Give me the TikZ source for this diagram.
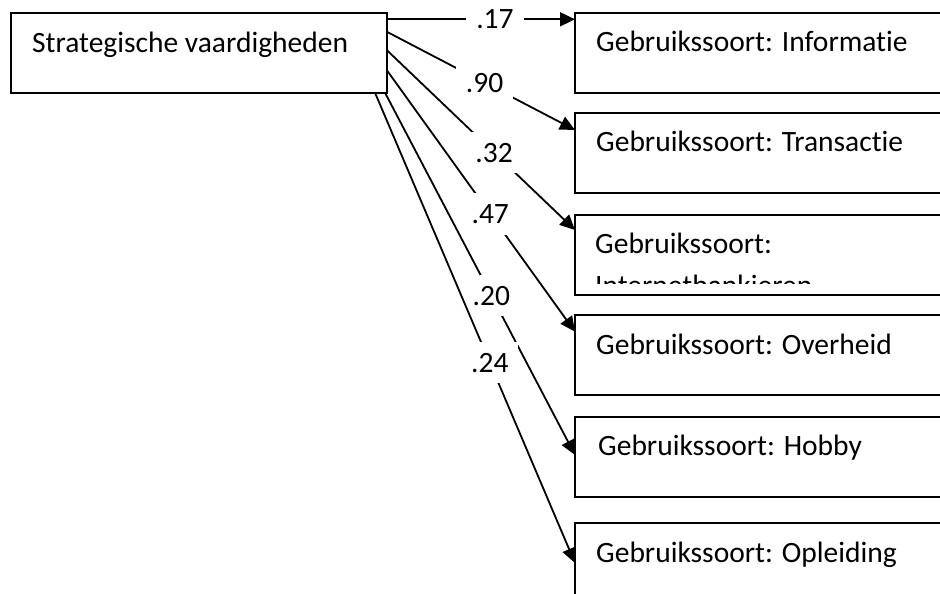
\documentclass[tikz,border=0pt]{standalone}
\usepackage{fontspec}
\setmainfont{Carlito}[RawFeature={-liga;-clig;-calt}]
\usetikzlibrary{arrows.meta, positioning, calc}

\begin{document}
\begin{tikzpicture}[x=1pt, y=-1pt,
    font=\fontsize{29.5}{42}\selectfont,
    varbox/.style={draw, line width=1.9pt, inner sep=0pt, outer sep=0pt, anchor=north west, minimum height=80pt},
    usebox/.style={varbox, minimum width=420pt},
    boxtext/.style={anchor=base west, inner sep=0pt},
    effect/.style={line width=1.8pt, -{Triangle[length=15pt, width=14pt]}},
    coef/.style={fill=white, inner xsep=10pt, inner ysep=11pt}]
    \clip (0,0) rectangle (940,594);

    % Left box
    \node[varbox, minimum width=375.7pt] (strat) at (11,12.7) {};
    \node[boxtext] (strattext) at ($(strat.north west)+(21,39.6)$) {Strategische vaardigheden};

    % Right boxes (cut off at the page edge)
    \node[usebox] (info) at (575,12.7) {};
    \node[usebox] (trans) at (575,113) {};
    \node[usebox] (bank) at (575,215) {};
    \node[usebox] (over) at (575,315) {};
    \node[usebox] (hobby) at (575,416.7) {};
    \node[usebox] (opl) at (575,523) {};

    \node[boxtext] (infotext) at ($(info.north west)+(21,39)$) {Gebruikssoort: Informatie};
    \node[boxtext] (transtext) at ($(trans.north west)+(21,38)$) {Gebruikssoort: Transactie};
    \node[boxtext] (overtext) at ($(over.north west)+(21,39)$) {Gebruikssoort: Overheid};
    \node[boxtext] (hobbytext) at ($(hobby.north west)+(23,38.3)$) {Gebruikssoort: Hobby};
    \node[boxtext] (opltext) at ($(opl.north west)+(21,39)$) {Gebruikssoort: Opleiding};

    % Second line does not fit in the box
    \begin{scope}
        \clip (bank.north west) rectangle ($(bank.south east)+(0,-12)$);
        \node[boxtext] (banktext) at ($(bank.north west)+(20,38)$) {Gebruikssoort:};
        \node[boxtext] (banktext2) at ($(bank.north west)+(20,80)$) {Internetbankieren};
    \end{scope}

    % Effects
    \draw[effect] ($(strat.north east)+(0,6.6)$) -- node[coef, pos=0.575] (c17) {.17} ($(info.north west)+(0,6.6)$);
    \draw[effect] ($(strat.north east)+(0,19)$) -- node[coef, pos=0.52] (c90) {.90} ($(trans.north west)+(0,17)$);
    \draw[effect] ($(strat.north east)+(0,37.3)$) -- node[coef, pos=0.57] (c32) {.32} ($(bank.north west)+(0,15)$);
    \draw[effect] ($(strat.north east)+(0,57.3)$) -- node[coef, pos=0.55] (c47) {.47} ($(over.north west)+(0,16.7)$);
    \draw[effect] ($(strat.south east)+(-1.7,0)$) -- node[coef, pos=0.56] (c20) {.20} ($(hobby.north west)+(0,38.3)$);
    \draw[effect] ($(strat.south east)+(-11.7,0)$) -- node[coef, pos=0.574] (c24) {.24} ($(opl.north west)+(0,40)$);
\end{tikzpicture}
\end{document}
